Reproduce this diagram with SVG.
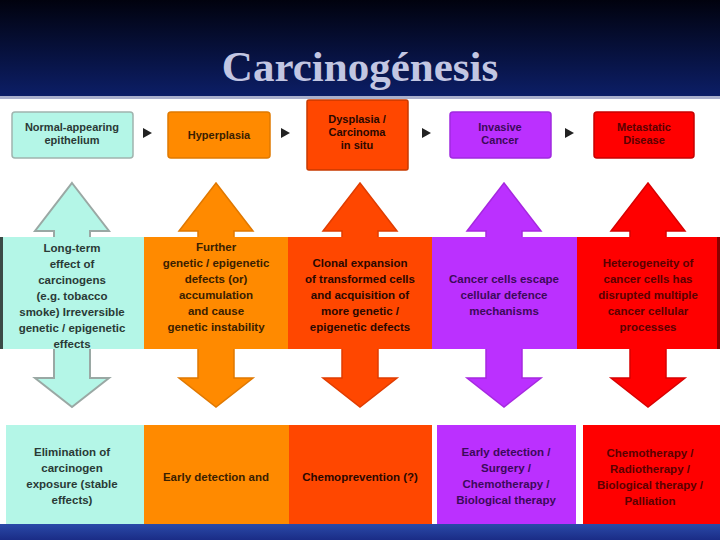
<svg xmlns="http://www.w3.org/2000/svg" width="720" height="540" viewBox="0 0 720 540">
<defs>
<linearGradient id="sky" x1="0" y1="0" x2="0" y2="1">
<stop offset="0" stop-color="#01020e"/>
<stop offset="1" stop-color="#0c1e66"/>
</linearGradient>
<linearGradient id="foot" x1="0" y1="0" x2="0" y2="1">
<stop offset="0" stop-color="#2a4aa8"/>
<stop offset="1" stop-color="#1a2c86"/>
</linearGradient>
<style>
text{font-family:"Liberation Sans",Arial,sans-serif;font-weight:bold;font-size:11.5px;text-anchor:middle}
.title{font-family:"Liberation Serif","Times New Roman",serif;font-size:43px;fill:#c2c6e2}
.sm{font-size:11px}
.mint{fill:#b4f6e7}
.org{fill:#ff8a00}
.ro{fill:#ff4700}
.pur{fill:#bb30ff}
.red{fill:#ff0000}
.tm{fill:#2a3a36}
.to{fill:#3a2000}
.tr{fill:#2a0800}
.tp{fill:#3c0a5a}
.td{fill:#5a0000}
.tri{fill:#222}
</style>
</defs>
<rect width="720" height="540" fill="#ffffff"/>
<rect width="720" height="96" fill="url(#sky)"/>
<rect y="96" width="720" height="3" fill="#aab0cc"/>
<rect y="524" width="720" height="16" fill="url(#foot)"/>
<text class="title" x="360" y="81">Carcinogénesis</text>

<g id="connectors">
<polygon class="tri" points="143,128 152,133 143,138"/>
<polygon class="tri" points="281,128 290,133 281,138"/>
<polygon class="tri" points="422,128 431,133 422,138"/>
<polygon class="tri" points="565,128 574,133 565,138"/>
<polygon class="mint" stroke="#9aa8a4" stroke-width="2" points="72,183 109,231 90,231 90,378 109,378 72,407 35,378 54,378 54,231 35,231"/>
<polygon class="org" stroke="#e07800" stroke-width="1.5" points="216,183 253,231 234,231 234,378 253,378 216,407 179,378 198,378 198,231 179,231"/>
<polygon class="ro" stroke="#e03c00" stroke-width="1.5" points="360,183 397,231 378,231 378,378 397,378 360,407 323,378 342,378 342,231 323,231"/>
<polygon class="pur" stroke="#a628e0" stroke-width="1.5" points="504,183 541,231 522,231 522,378 541,378 504,407 467,378 486,378 486,231 467,231"/>
<polygon class="red" stroke="#d80000" stroke-width="1.5" points="648,183 685,231 666,231 666,378 685,378 648,407 611,378 630,378 630,231 611,231"/>
</g>

<g id="top-normal">
<rect class="mint" x="12" y="112" width="121" height="46" rx="3" stroke="#a0b4ae" stroke-width="1.5"/>
<text class="tm sm" x="72" y="131">Normal-appearing</text>
<text class="tm sm" x="72" y="144">epithelium</text>
</g>
<g id="top-hyperplasia">
<rect class="org" x="168" y="112" width="102" height="46" rx="3" stroke="#e07a00" stroke-width="1.5"/>
<text class="to sm" x="219" y="139">Hyperplasia</text>
</g>
<g id="top-dysplasia">
<rect class="ro" x="307" y="100" width="101" height="70" rx="2" stroke="#c83a00" stroke-width="1.5"/>
<text class="tr sm" x="357" y="123">Dysplasia /</text>
<text class="tr sm" x="357" y="136">Carcinoma</text>
<text class="tr sm" x="357" y="149">in situ</text>
</g>
<g id="top-invasive">
<rect class="pur" x="450" y="112" width="101" height="46" rx="3" stroke="#a02ae0" stroke-width="1.5"/>
<text class="tp sm" x="500" y="131">Invasive</text>
<text class="tp sm" x="500" y="144">Cancer</text>
</g>
<g id="top-metastatic">
<rect class="red" x="594" y="112" width="100" height="46" rx="3" stroke="#c80000" stroke-width="1.5"/>
<text class="td sm" x="644" y="131">Metastatic</text>
<text class="td sm" x="644" y="144">Disease</text>
</g>

<g id="mid-1">
<rect class="mint" x="1" y="237" width="143" height="112"/>
<rect x="0" y="237" width="3" height="112" fill="#3a4a46"/>
<text class="tm" x="72" y="252">Long-term</text>
<text class="tm" x="72" y="268">effect of</text>
<text class="tm" x="72" y="284">carcinogens</text>
<text class="tm" x="72" y="300">(e.g. tobacco</text>
<text class="tm" x="72" y="316">smoke) Irreversible</text>
<text class="tm" x="72" y="332">genetic / epigenetic</text>
<text class="tm" x="72" y="348">effects</text>
</g>
<g id="mid-2">
<rect class="org" x="144" y="237" width="144" height="112"/>
<text class="to" x="216" y="251">Further</text>
<text class="to" x="216" y="267">genetic / epigenetic</text>
<text class="to" x="216" y="283">defects (or)</text>
<text class="to" x="216" y="299">accumulation</text>
<text class="to" x="216" y="315">and cause</text>
<text class="to" x="216" y="331">genetic instability</text>
</g>
<g id="mid-3">
<rect class="ro" x="288" y="237" width="144" height="112"/>
<text class="tr" x="360" y="267">Clonal expansion</text>
<text class="tr" x="360" y="283">of transformed cells</text>
<text class="tr" x="360" y="299">and acquisition of</text>
<text class="tr" x="360" y="315">more genetic /</text>
<text class="tr" x="360" y="331">epigenetic defects</text>
</g>
<g id="mid-4">
<rect class="pur" x="432" y="237" width="145" height="112"/>
<text class="tp" x="504" y="283">Cancer cells escape</text>
<text class="tp" x="504" y="299">cellular defence</text>
<text class="tp" x="504" y="315">mechanisms</text>
</g>
<g id="mid-5">
<rect class="red" x="577" y="237" width="143" height="112"/>
<rect x="717" y="237" width="3" height="112" fill="#8a0000"/>
<text class="td" x="648" y="267">Heterogeneity of</text>
<text class="td" x="648" y="283">cancer cells has</text>
<text class="td" x="648" y="299">disrupted multiple</text>
<text class="td" x="648" y="315">cancer cellular</text>
<text class="td" x="648" y="331">processes</text>
</g>

<g id="bot-1">
<rect class="mint" x="6" y="425" width="138" height="99"/>
<text class="tm" x="72" y="456">Elimination of</text>
<text class="tm" x="72" y="472">carcinogen</text>
<text class="tm" x="72" y="488">exposure (stable</text>
<text class="tm" x="72" y="504">effects)</text>
</g>
<g id="bot-2">
<rect class="org" x="144" y="425" width="145" height="99"/>
<text class="to" x="216" y="481">Early detection and</text>
</g>
<g id="bot-3">
<rect class="ro" x="289" y="425" width="143" height="99"/>
<text class="tr" x="360" y="481">Chemoprevention (?)</text>
</g>
<g id="bot-4">
<rect class="pur" x="437" y="425" width="139" height="99"/>
<text class="tp" x="506" y="456">Early detection /</text>
<text class="tp" x="506" y="472">Surgery /</text>
<text class="tp" x="506" y="488">Chemotherapy /</text>
<text class="tp" x="506" y="504">Biological therapy</text>
</g>
<g id="bot-5">
<rect class="red" x="583" y="425" width="137" height="99"/>
<text class="td" x="650" y="457">Chemotherapy /</text>
<text class="td" x="650" y="473">Radiotherapy /</text>
<text class="td" x="650" y="489">Biological therapy /</text>
<text class="td" x="650" y="505">Palliation</text>
</g>
</svg>
